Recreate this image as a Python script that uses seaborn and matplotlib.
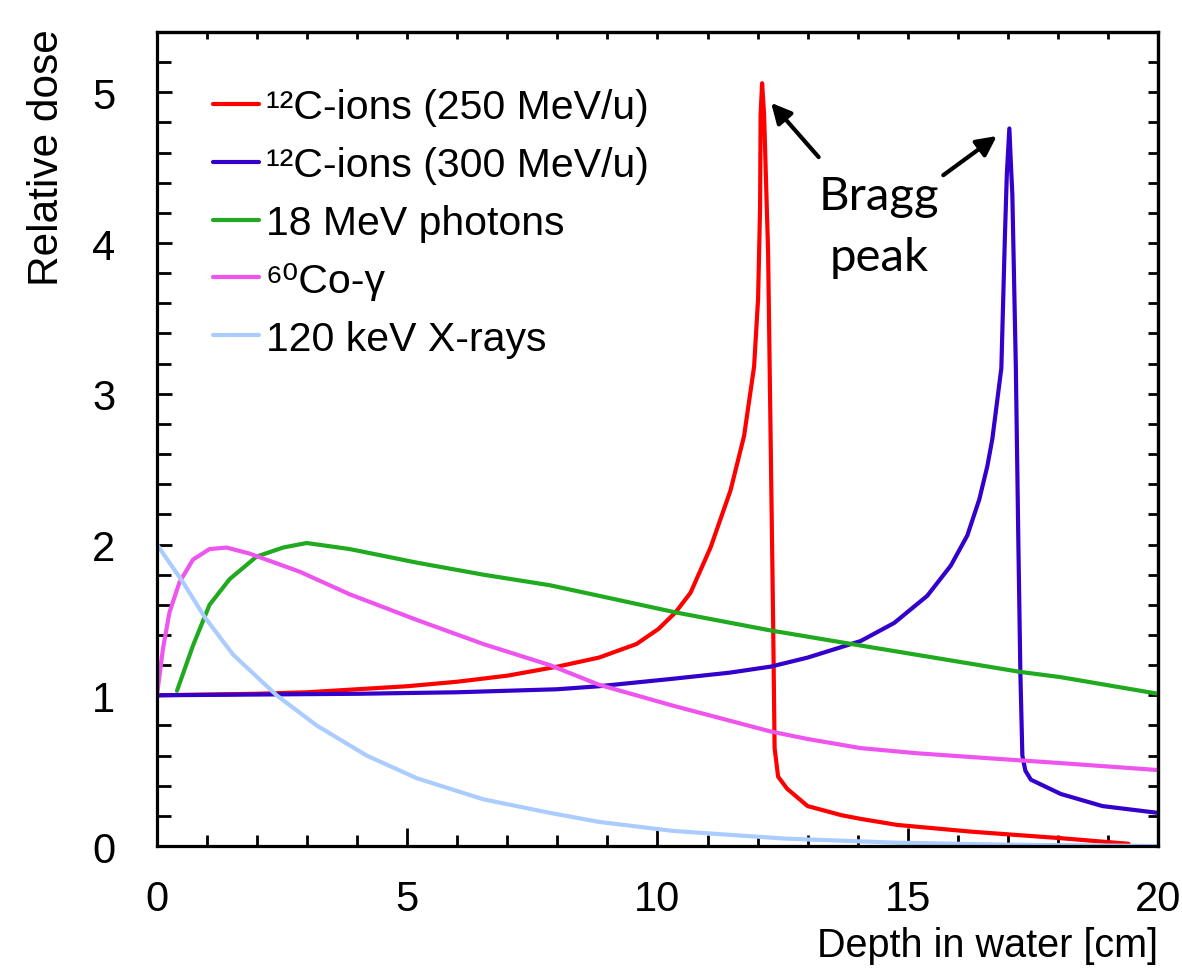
import matplotlib
matplotlib.use("Agg")
import numpy as np
import pandas as pd
import seaborn as sns
import matplotlib.pyplot as plt
from matplotlib.ticker import MultipleLocator, NullFormatter
from matplotlib.lines import Line2D

# ---------------- data ----------------
series_labels = ["¹²C-ions (250 MeV/u)", "¹²C-ions (300 MeV/u)",
                 "18 MeV photons", "⁶⁰Co-γ", "120 keV X-rays"]
series_colors = ["#FF0000", "#3300CC", "#1FAA1F", "#EE55EE", "#AACCFF"]

c250_x = [0, 1, 2, 3, 4, 5, 6, 7, 8, 8.83, 9.58, 10.02, 10.36, 10.66, 11.06,
          11.46, 11.73, 11.93, 12.01, 12.05, 12.06, 12.09, 12.13, 12.21, 12.26,
          12.31, 12.34, 12.41, 12.59, 13.0, 13.67, 14.06, 14.79, 16.28, 18.06,
          19.41]
c250_y = [1.0, 1.005, 1.01, 1.02, 1.04, 1.06, 1.09, 1.13, 1.19, 1.25, 1.34, 1.44,
          1.55, 1.68, 1.98, 2.36, 2.72, 3.18, 3.63, 4.24, 4.85, 5.06, 4.85, 3.94,
          2.72, 1.50, 0.65, 0.46, 0.38, 0.265, 0.205, 0.18, 0.14, 0.095, 0.052,
          0.015]

c300_x = [0, 2, 4, 6, 8, 8.83, 10.32, 11.44, 12.26, 13.0, 14.06, 14.73, 15.39,
          15.86, 16.19, 16.43, 16.59, 16.69, 16.87, 16.94, 16.98, 17.03, 17.07,
          17.09, 17.16, 17.21, 17.25, 17.29, 17.35, 17.46, 18.06, 18.89, 20.0]
c300_y = [1.0, 1.005, 1.01, 1.02, 1.04, 1.06, 1.11, 1.15, 1.19, 1.25, 1.36, 1.48,
          1.66, 1.86, 2.06, 2.30, 2.52, 2.70, 3.17, 4.03, 4.46, 4.76, 4.46, 4.32,
          3.17, 2.01, 1.15, 0.60, 0.50, 0.44, 0.345, 0.265, 0.22]

ph18_x = [0.4, 0.72, 1.05, 1.45, 1.99, 2.52, 2.99, 3.85, 5.19, 6.52, 7.85, 8.83,
          10.36, 12.26, 14.06, 17.25, 18.06, 20.0]
ph18_y = [1.03, 1.33, 1.60, 1.77, 1.92, 1.98, 2.01, 1.97, 1.88, 1.80, 1.73, 1.66,
          1.55, 1.43, 1.33, 1.155, 1.12, 1.01]

co60_x = [0, 0.12, 0.25, 0.45, 0.72, 1.05, 1.39, 1.85, 2.85, 3.85, 5.19, 6.52,
          7.85, 8.83, 10.32, 12.26, 13.0, 14.05, 15.2, 16.28, 18.06, 20.0]
co60_y = [1.0, 1.31, 1.55, 1.75, 1.90, 1.97, 1.98, 1.94, 1.82, 1.67, 1.50, 1.34,
          1.20, 1.07, 0.93, 0.76, 0.71, 0.65, 0.615, 0.59, 0.55, 0.504]

xr120_x = [0, 0.52, 0.95, 1.52, 2.39, 3.19, 4.19, 5.19, 6.52, 7.85, 8.83, 10.32,
           12.56, 14.79, 17.03, 20.0]
xr120_y = [2.0, 1.75, 1.52, 1.27, 1.0, 0.80, 0.60, 0.45, 0.31, 0.22, 0.16, 0.10,
           0.049, 0.022, 0.009, 0.0]

x_ticks = [0, 5, 10, 15, 20]
y_ticks = [0, 1, 2, 3, 4, 5]
x_label = "Depth in water [cm]"
y_label = "Relative dose"
annot_text = "Bragg\npeak"

series_x = [c250_x, c300_x, ph18_x, co60_x, xr120_x]
series_y = [c250_y, c300_y, ph18_y, co60_y, xr120_y]

frames = []
for lab, xs, ys in zip(series_labels, series_x, series_y):
    frames.append(pd.DataFrame({"depth": xs, "dose": ys, "series": lab}))
df = pd.concat(frames, ignore_index=True)

# ---------------- style ----------------
sns.set_theme(style="ticks")
plt.rcParams["font.family"] = ["Liberation Sans", "DejaVu Sans"]
plt.rcParams["axes.linewidth"] = 2.3
plt.rcParams["text.color"] = "black"
plt.rcParams["axes.labelcolor"] = "black"
plt.rcParams["xtick.color"] = "black"
plt.rcParams["ytick.color"] = "black"

fig = plt.figure(figsize=(11.82, 9.79), dpi=100)
ax = fig.add_axes([0.1328, 0.1348, 0.8469, 0.8315])

palette = dict(zip(series_labels, series_colors))
sns.lineplot(data=df, x="depth", y="dose", hue="series", hue_order=series_labels,
             palette=palette, estimator=None, sort=False, units="series",
             ax=ax, legend=False)
LINE_W = 3.0
for ln in ax.lines:
    ln.set_linewidth(LINE_W)
    ln.set_solid_joinstyle("round")
    ln.set_solid_capstyle("round")

ax.set_xlim(0, 20)
ax.set_ylim(0, 5.4)
ax.set_xticks(x_ticks)
ax.set_yticks(y_ticks)
ax.xaxis.set_minor_locator(MultipleLocator(1))
ax.yaxis.set_minor_locator(MultipleLocator(0.2))
ax.tick_params(which="both", direction="in", top=False, right=False, width=2,
               colors="black", labelsize=30)
ax.tick_params(axis="x", which="major", length=13, pad=24)
ax.tick_params(axis="x", which="minor", length=8)
ax.tick_params(axis="y", which="major", length=11, pad=30)
ax.tick_params(axis="y", which="minor", length=10)
for sp in ax.spines.values():
    sp.set_color("black")

# short ticks on top and right spines
secx = ax.secondary_xaxis("top")
secx.xaxis.set_major_locator(MultipleLocator(1))
secx.xaxis.set_major_formatter(NullFormatter())
secx.tick_params(direction="in", length=5, width=2, colors="black")
secx.spines["top"].set_linewidth(2.3)
secy = ax.secondary_yaxis("right")
secy.yaxis.set_major_locator(MultipleLocator(0.2))
secy.yaxis.set_major_formatter(NullFormatter())
secy.tick_params(direction="in", length=7, width=2, colors="black")
secy.spines["right"].set_linewidth(2.3)

ax.set_xlabel(x_label, fontsize=28.5, loc="right")
ax.xaxis.set_label_coords(1.0, -0.098)
ax.set_ylabel(y_label, fontsize=30.5, loc="top")
ax.yaxis.set_label_coords(-0.090, 1.004)

# legend
handles = [Line2D([], [], color=c, lw=LINE_W) for c in series_colors]
ax.legend(handles, series_labels, loc="upper left", bbox_to_anchor=(0.056, 0.931),
          frameon=False, fontsize=29.5, handlelength=1.12, handletextpad=0.17,
          labelspacing=0.485, borderpad=0, borderaxespad=0)

# annotation
text_xy = (14.42, 4.11)
arrow1_head, arrow1_tail = (12.27, 4.93), (13.22, 4.57)
arrow2_head, arrow2_tail = (16.78, 4.71), (15.71, 4.45)
ax.text(*text_xy, annot_text, ha="center", va="center", fontsize=34,
        family=["Lato", "DejaVu Sans"], linespacing=1.55)
for head, tail in [(arrow1_head, arrow1_tail), (arrow2_head, arrow2_tail)]:
    ax.annotate("", xy=head, xytext=tail,
                arrowprops=dict(arrowstyle="-|>", lw=3, color="black",
                                mutation_scale=30, shrinkA=0, shrinkB=0))

fig.savefig("out.png", dpi=100)
